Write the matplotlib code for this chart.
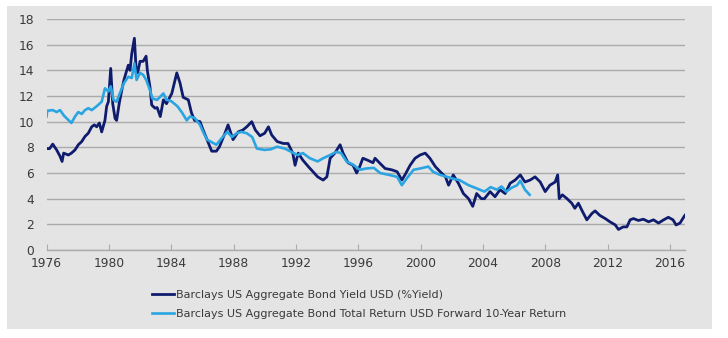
import matplotlib
matplotlib.use('Agg')
import matplotlib.pyplot as plt
from matplotlib.patches import Rectangle

# Barclays US Aggregate Bond Yield USD (%Yield)
yield_years = [1976.0, 1976.2, 1976.4, 1976.65, 1976.87, 1977.0, 1977.1, 1977.4, 1977.6, 1977.83,
               1978.04, 1978.26, 1978.47, 1978.68, 1978.9, 1979.07, 1979.22, 1979.39, 1979.54, 1979.75,
               1979.86, 1979.97, 1980.12, 1980.25, 1980.4, 1980.5, 1980.67, 1980.83, 1980.97, 1981.1,
               1981.25, 1981.36, 1981.47, 1981.64, 1981.74, 1981.85, 1982.0, 1982.2, 1982.39, 1982.47,
               1982.64, 1982.75, 1982.96, 1983.1, 1983.3, 1983.5, 1983.7, 1984.04, 1984.36, 1984.57,
               1984.77, 1985.1, 1985.3, 1985.5, 1985.85, 1986.05, 1986.3, 1986.6, 1986.9, 1987.1,
               1987.45, 1987.65, 1987.97, 1988.3, 1988.6, 1988.85, 1989.17, 1989.4, 1989.7, 1990.0,
               1990.24, 1990.45, 1990.8, 1991.2, 1991.5, 1991.8, 1991.95, 1992.15, 1992.45, 1992.8,
               1993.1, 1993.4, 1993.75, 1993.99, 1994.2, 1994.5, 1994.84, 1995.03, 1995.35, 1995.67,
               1995.9, 1996.1, 1996.3, 1996.6, 1996.95, 1997.08, 1997.4, 1997.73, 1998.15, 1998.5,
               1998.8, 1999.0, 1999.33, 1999.65, 1999.97, 2000.3, 2000.6, 2000.95, 2001.26, 2001.6,
               2001.8, 2002.1, 2002.43, 2002.75, 2003.08, 2003.35, 2003.6, 2003.9, 2004.1, 2004.46,
               2004.78, 2005.1, 2005.43, 2005.75, 2006.07, 2006.4, 2006.7, 2007.03, 2007.35, 2007.68,
               2008.0, 2008.3, 2008.64, 2008.8, 2008.9, 2009.1, 2009.4, 2009.7, 2009.9, 2010.13,
               2010.35, 2010.67, 2011.0, 2011.2, 2011.5, 2011.85, 2012.15, 2012.5, 2012.7, 2013.0,
               2013.24, 2013.45, 2013.66, 2013.98, 2014.3, 2014.63, 2014.95, 2015.27, 2015.6, 2015.9,
               2016.2, 2016.4, 2016.65, 2016.96]
yield_values = [7.9, 7.9, 8.25, 7.8, 7.3, 6.9, 7.55, 7.4, 7.55, 7.8,
                8.2, 8.45, 8.85, 9.1, 9.6, 9.75, 9.6, 9.9, 9.2, 10.1,
                11.2, 11.55, 14.15, 11.4, 10.25, 10.1, 11.45, 12.45, 13.25, 13.8,
                14.4, 14.0, 15.3, 16.5, 14.3, 13.8, 14.7, 14.7, 15.1, 14.0,
                12.7, 11.3, 11.05, 11.1, 10.4, 11.7, 11.4, 12.2, 13.8, 13.0,
                11.9, 11.7, 10.7, 10.1, 10.0, 9.35, 8.6, 7.7, 7.7, 8.05,
                9.1, 9.75, 8.6, 9.2, 9.35, 9.6, 10.0, 9.35, 8.9, 9.1,
                9.6, 8.96, 8.45, 8.3, 8.3, 7.55, 6.6, 7.55, 7.0, 6.5,
                6.1, 5.7, 5.45, 5.7, 7.15, 7.55, 8.2, 7.55, 6.8, 6.6,
                6.0, 6.5, 7.15, 7.0, 6.8, 7.15, 6.75, 6.35, 6.25, 6.1,
                5.45, 5.85, 6.6, 7.15, 7.4, 7.55, 7.15, 6.5, 6.1, 5.7,
                5.05, 5.85, 5.2, 4.4, 4.0, 3.4, 4.4, 4.0, 4.0, 4.55,
                4.15, 4.7, 4.4, 5.2, 5.45, 5.85, 5.3, 5.45, 5.7, 5.3,
                4.55, 5.05, 5.3, 5.85, 4.0, 4.3, 4.0, 3.65, 3.25, 3.65,
                3.1, 2.35, 2.85, 3.05, 2.7, 2.45, 2.2, 1.95, 1.6, 1.8,
                1.8, 2.35, 2.45, 2.3, 2.4, 2.2, 2.35, 2.1, 2.35, 2.55,
                2.35, 1.95, 2.1, 2.7]

# Barclays US Aggregate Bond Total Return USD Forward 10-Year Return
return_years = [1976.0, 1976.05, 1976.4, 1976.65, 1976.87, 1977.1, 1977.3, 1977.6, 1977.83, 1978.04,
                1978.26, 1978.47, 1978.68, 1978.9, 1979.22, 1979.54, 1979.75, 1979.97, 1980.12, 1980.3,
                1980.5, 1980.7, 1980.97, 1981.25, 1981.47, 1981.64, 1981.78, 1982.0, 1982.2, 1982.4,
                1982.64, 1982.8, 1983.1, 1983.5, 1983.7, 1984.0, 1984.4, 1984.7, 1985.0, 1985.2,
                1985.5, 1985.85, 1986.05, 1986.3, 1986.6, 1986.9, 1987.3, 1987.6, 1987.9, 1988.2,
                1988.5, 1988.85, 1989.2, 1989.5, 1990.0, 1990.4, 1990.8, 1991.3, 1991.7, 1992.1,
                1992.45, 1992.9, 1993.4, 1993.75, 1994.2, 1994.6, 1994.9, 1995.25, 1995.67, 1996.1,
                1996.5, 1997.0, 1997.4, 1998.0, 1998.5, 1998.8, 1999.1, 1999.55, 1999.97, 2000.5,
                2000.8, 2001.26, 2001.7, 2002.1, 2002.5, 2003.08, 2003.6, 2004.1, 2004.5, 2004.9,
                2005.2, 2005.5, 2005.85, 2006.2, 2006.4, 2006.7, 2007.0]
return_values = [10.4, 10.85, 10.9, 10.75, 10.9, 10.5, 10.25, 9.9, 10.4, 10.75,
                 10.6, 10.9, 11.05, 10.9, 11.2, 11.55, 12.6, 12.35, 12.75, 11.7,
                 11.55, 12.2, 13.0, 13.5, 13.4, 14.55, 13.25, 13.8, 13.65, 13.25,
                 12.45, 11.8, 11.7, 12.2, 11.7, 11.6, 11.2, 10.7, 10.1, 10.4,
                 10.3, 9.75, 9.2, 8.6, 8.4, 8.2, 8.8, 9.2, 8.8, 9.1,
                 9.2, 9.1, 8.8, 7.9, 7.8, 7.85, 8.05, 7.9, 7.65, 7.4,
                 7.55, 7.15, 6.9, 7.15, 7.4, 7.65, 7.55, 6.9, 6.65, 6.25,
                 6.35, 6.4, 6.0, 5.85, 5.7, 5.05, 5.55, 6.25, 6.35, 6.5,
                 6.1, 5.85, 5.7, 5.55, 5.45, 5.05, 4.8, 4.55, 4.9, 4.7,
                 4.95, 4.55, 4.85, 5.05, 5.4, 4.7, 4.3]

x_ticks = [1976, 1980, 1984, 1988, 1992, 1996, 2000, 2004, 2008, 2012, 2016]
y_ticks = [0, 2, 4, 6, 8, 10, 12, 14, 16, 18]

dark = '#0f1c6e'
light = '#2aa5e2'
panel = '#e4e4e4'
text_col = '#3a3a3a'

fig = plt.figure(figsize=(7.28, 3.38), dpi=100, facecolor='white')
fig.patches.append(Rectangle((7 / 728, 1 - 329 / 338), 705 / 728, 323 / 338,
                             transform=fig.transFigure, facecolor=panel, edgecolor='none', zorder=-10))

ax = fig.add_axes([46.5 / 728, 1 - 250 / 338, (685 - 46.5) / 728, (250 - 19) / 338])
ax.set_facecolor('none')

ax.plot(yield_years, yield_values, color=dark, lw=2.0, solid_joinstyle='round',
        label='Barclays US Aggregate Bond Yield USD (%Yield)', zorder=3)
ax.plot(return_years, return_values, color=light, lw=1.9, solid_joinstyle='round',
        label='Barclays US Aggregate Bond Total Return USD Forward 10-Year Return', zorder=4)

ax.set_xlim(1976, 2016.97)
ax.set_ylim(0, 18)
ax.set_xticks(x_ticks)
ax.set_yticks(y_ticks)
ax.grid(axis='y', color='#ababab', lw=1.0)
ax.set_axisbelow(True)
for s in ['top', 'right', 'left']:
    ax.spines[s].set_visible(False)
ax.spines['bottom'].set_color('#ababab')
ax.spines['bottom'].set_linewidth(1.0)
ax.tick_params(axis='x', colors='#ababab', labelcolor=text_col, labelsize=8.8, length=4, direction='in', pad=5)
ax.tick_params(axis='y', length=0, labelcolor=text_col, labelsize=8.8, pad=9)

fig.legend(loc='upper left', bbox_to_anchor=(152 / 728, 1 - 290 / 338), frameon=False,
           fontsize=8.0, handlelength=2.0, handletextpad=0.2, labelspacing=0.8,
           labelcolor=text_col, borderaxespad=0, borderpad=0)

fig.savefig('out.png', dpi=100, facecolor='white')
